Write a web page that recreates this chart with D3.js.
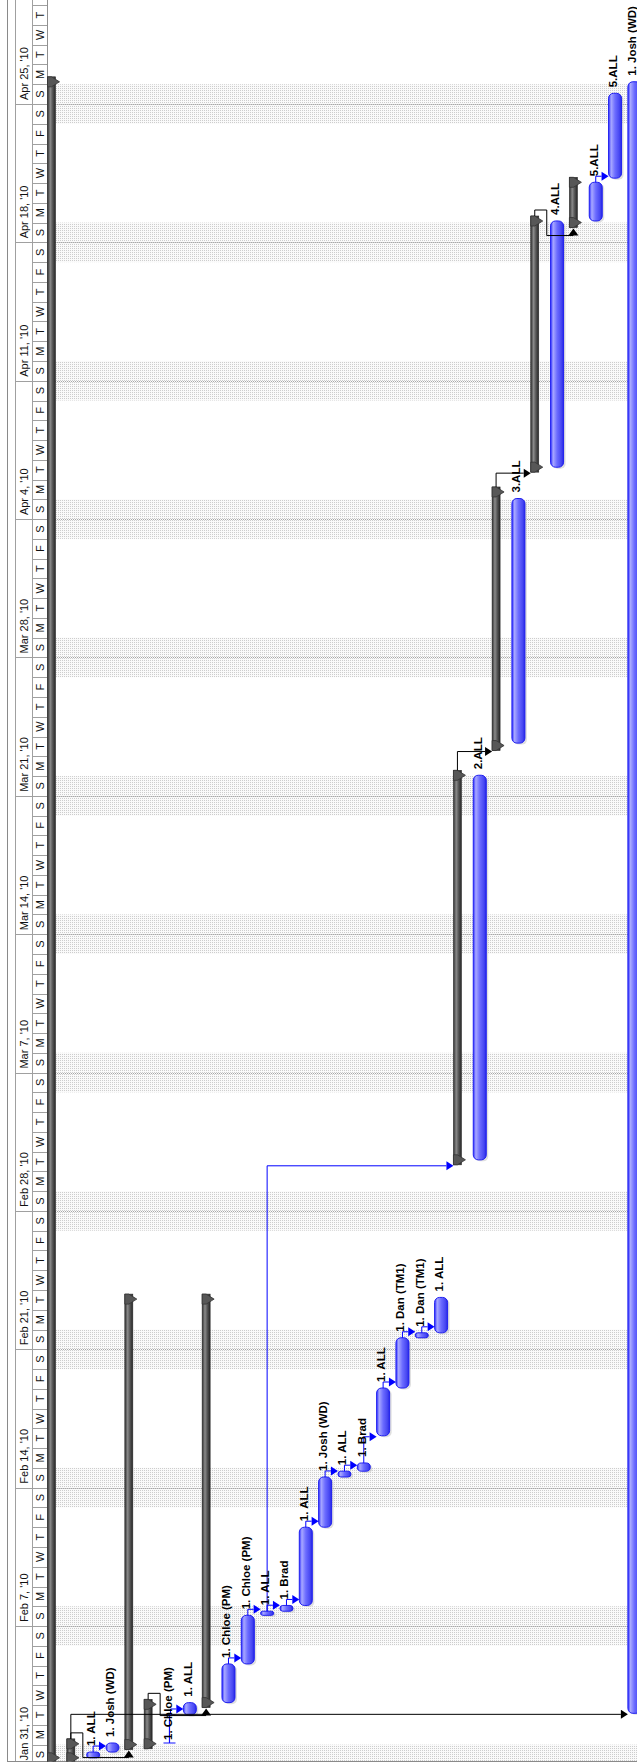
<!DOCTYPE html>
<html><head><meta charset="utf-8">
<script src="https://cdn.jsdelivr.net/npm/d3@7"></script>
<style>html,body{margin:0;padding:0;background:#fff;} svg{display:block;}</style>
</head><body>
<script>
// ---------- DATA ----------
const rowTypes = ["summary","summary","task","task","summary","summary","ibar","task","summary","task",
  "task","task","task","task","task","task","task","task","task","task",
  "task","summary","task","summary","task","summary","task","summary","task","task","task"];
const rowNames = ["","","1. ALL","1. Josh (WD)","","","1. Chloe (PM)","1. ALL","","1. Chloe (PM)",
  "1. Chloe (PM)","1. ALL","1. Brad","1. ALL","1. Josh (WD)","1. ALL","1. Brad","1. ALL","1. Dan (TM1)","1. Dan (TM1)",
  "1. ALL","","2.ALL","","3.ALL","","4.ALL","","5.ALL","5.ALL","1. Josh (WD)"];
const rowStart = ["2010-01-31 02:00","2010-01-31 02:00","2010-01-31 08:00","2010-01-31 15:00","2010-01-31 18:00",
  "2010-01-31 19:00","2010-02-01 02:00","2010-02-02 12:00","2010-02-02 21:00","2010-02-03 03:00",
  "2010-02-05 02:00","2010-02-07 13:00","2010-02-07 18:00","2010-02-08 01:00","2010-02-12 00:00",
  "2010-02-14 13:00","2010-02-14 20:00","2010-02-16 15:00","2010-02-19 01:00","2010-02-21 14:00",
  "2010-02-21 20:00","2010-03-02 08:00","2010-03-02 14:00","2010-03-23 07:00","2010-03-23 16:00",
  "2010-04-06 09:00","2010-04-06 15:00","2010-04-18 18:00","2010-04-19 02:00","2010-04-21 06:00",
  "2010-02-02 14:00"];
const rowEnd = ["2010-04-26 09:00","2010-02-01 07:00","2010-01-31 15:00","2010-02-01 02:00","2010-02-23 19:00",
  "2010-02-03 07:00","2010-02-02 12:00","2010-02-03 03:00","2010-02-23 19:00","2010-02-05 02:00",
  "2010-02-07 13:00","2010-02-07 18:00","2010-02-08 01:00","2010-02-12 00:00","2010-02-14 13:00",
  "2010-02-14 20:00","2010-02-15 06:00","2010-02-19 01:00","2010-02-21 14:00","2010-02-21 20:00",
  "2010-02-23 15:00","2010-03-22 07:00","2010-03-22 01:00","2010-04-05 15:00","2010-04-05 01:00",
  "2010-04-19 08:00","2010-04-19 02:00","2010-04-21 07:00","2010-04-21 01:00","2010-04-25 13:00",
  "2010-04-26 03:00"];
const linkFrom = [1,1,5,2,6,9,10,11,12,13,14,15,16,17,18,19,11,21,23,25,28];
const linkTo   = [30,4,8,3,7,10,11,12,13,14,15,16,17,18,19,20,21,23,25,27,29];
const weekLabels = ["Jan 31, '10","Feb 7, '10","Feb 14, '10","Feb 21, '10","Feb 28, '10","Mar 7, '10",
  "Mar 14, '10","Mar 21, '10","Mar 28, '10","Apr 4, '10","Apr 11, '10","Apr 18, '10","Apr 25, '10"];
const dayLetters = ["S","M","T","W","T","F","S"];

// ---------- SETUP ----------
const W = 637, H = 1764, BOTTOM = 1761.5;
const parse = d3.utcParse("%Y-%m-%d %H:%M");
const rows = rowTypes.map((t,i)=>({i, type:t, name:rowNames[i], start:parse(rowStart[i]), end:parse(rowEnd[i])}));
const y = d3.scaleUtc().domain([new Date(Date.UTC(2010,0,31)), new Date(Date.UTC(2010,3,25))]).range([1764.4, 104]);
const x = d3.scaleBand().domain(d3.range(rows.length)).range([42, 42 + rows.length*19.33]);
const sc = i => x(i) + 9.5;   // summary centre
const tc = i => x(i) + 12.5;  // task centre

const svg = d3.select("body").append("svg").attr("width", W).attr("height", H);
const defs = svg.append("defs");
const pat = defs.append("pattern").attr("id","wk").attr("width",2).attr("height",2).attr("patternUnits","userSpaceOnUse");
pat.append("rect").attr("width",2).attr("height",2).attr("fill","#fafafa");
pat.append("rect").attr("width",1).attr("height",1).attr("fill","#cdcdcd");

function grad(id, stops){
  const g = defs.append("linearGradient").attr("id",id).attr("x1","0").attr("x2","1").attr("y1","0").attr("y2","0");
  stops.forEach(s=>g.append("stop").attr("offset",s[0]).attr("stop-color",s[1]));
}
grad("taskG", [[0,"#2e2eff"],[0.2,"#a8a8ff"],[0.5,"#6c6cff"],[0.82,"#4848f2"],[1,"#2626e6"]]);
grad("sumG", [[0,"#303030"],[0.35,"#8a8a8a"],[0.65,"#555"],[1,"#262626"]]);

defs.append("clipPath").attr("id","chartClip").append("rect").attr("x",47).attr("y",0).attr("width",W-47).attr("height",BOTTOM);
defs.append("clipPath").attr("id","hdrClip").append("rect").attr("x",0).attr("y",0).attr("width",47).attr("height",BOTTOM);

// ---------- WEEKENDS ----------
const chart = svg.append("g").attr("clip-path","url(#chartClip)");
const sats = d3.utcSaturday.range(new Date(Date.UTC(2010,0,29)), new Date(Date.UTC(2010,4,2)));
chart.selectAll("rect.we").data(sats).join("rect").attr("class","we")
  .attr("x",47).attr("width",W-47)
  .attr("y", d=>y(d3.utcDay.offset(d,2))).attr("height", d=>y(d)-y(d3.utcDay.offset(d,2)))
  .attr("fill","url(#wk)");
chart.selectAll("line.sun").data(sats).join("line").attr("class","sun")
  .attr("x1",47).attr("x2",W)
  .attr("y1", d=>Math.round(y(d3.utcDay.offset(d,1)))+0.5).attr("y2", d=>Math.round(y(d3.utcDay.offset(d,1)))+0.5)
  .attr("stroke","#a8a8a8").attr("stroke-dasharray","1,1");

// ---------- HEADER ----------
const hdr = svg.append("g").attr("clip-path","url(#hdrClip)");
const days = d3.utcDay.range(new Date(Date.UTC(2010,0,30)), new Date(Date.UTC(2010,4,2)));
hdr.selectAll("line.dl").data(days).join("line").attr("class","dl")
  .attr("x1",32).attr("x2",47).attr("y1",d=>Math.round(y(d))+0.5).attr("y2",d=>Math.round(y(d))+0.5)
  .attr("stroke","#a0a0a0");
const visDays = days.filter(d=>{ const c = y(d3.utcHour.offset(d,12)); return c > 6 && c < BOTTOM - 5; });
hdr.selectAll("text.dt").data(visDays).join("text").attr("class","dt")
  .attr("transform", d=>`translate(43.5,${y(d3.utcHour.offset(d,12))}) rotate(-90)`)
  .attr("text-anchor","middle").attr("font-family","'Liberation Sans', Arial, sans-serif").attr("font-size",11)
  .attr("fill","#111").text(d=>dayLetters[d.getUTCDay()]);
const suns = d3.utcSunday.range(new Date(Date.UTC(2010,0,31)), new Date(Date.UTC(2010,4,2)));
hdr.selectAll("line.wl").data(suns).join("line").attr("class","wl")
  .attr("x1",15).attr("x2",32).attr("y1",d=>Math.round(y(d))+0.5).attr("y2",d=>Math.round(y(d))+0.5)
  .attr("stroke","#a0a0a0");
hdr.selectAll("text.wt").data(suns.slice(0, weekLabels.length)).join("text").attr("class","wt")
  .attr("transform", d=>`translate(28,${y(d)-4}) rotate(-90)`)
  .attr("font-family","'Liberation Sans', Arial, sans-serif").attr("font-size",11)
  .attr("fill","#111").text((d,i)=>weekLabels[i]);
[[7,"#8a8a8a"],[15,"#a0a0a0"],[32,"#a0a0a0"],[47,"#909090"]].forEach(([xx,c])=>{
  svg.append("line").attr("x1",xx+0.5).attr("x2",xx+0.5).attr("y1",0).attr("y2",BOTTOM).attr("stroke",c);
});
svg.append("line").attr("x1",7).attr("x2",W).attr("y1",BOTTOM).attr("y2",BOTTOM).attr("stroke","#8a8a8a");

// ---------- BARS ----------
const bars = svg.append("g").attr("clip-path","url(#chartClip)");
rows.forEach(r=>{
  const y0 = y(r.start), y1 = y(r.end), len = y0 - y1;
  if (r.type === "summary") {
    const c = sc(r.i), xl = c - 4, xr = c + 4;
    bars.append("rect").attr("x",xl).attr("y",y1).attr("width",8).attr("height",len)
      .attr("fill","url(#sumG)").attr("stroke","#2a2a2a").attr("stroke-width",0.6);
    const cap = (ye, dir) => `M${xl},${ye} L${c},${ye} L${xr+4},${ye+dir*5} L${c},${ye+dir*10} L${xl},${ye+dir*10} Z`;
    bars.append("path").attr("d",cap(y0,-1)).attr("fill","#575757").attr("stroke","#333").attr("stroke-width",0.8);
    bars.append("path").attr("d",cap(y1,1)).attr("fill","#575757").attr("stroke","#333").attr("stroke-width",0.8);
  } else if (r.type === "task") {
    const c = tc(r.i), rr = Math.min(5, len/2);
    bars.append("rect").attr("x",c-6.5+2).attr("y",y1+1.5).attr("width",13).attr("height",len)
      .attr("rx",rr).attr("ry",rr).attr("fill","#c4c4c4").attr("opacity",0.55);
    bars.append("rect").attr("x",c-6.5).attr("y",y1).attr("width",13).attr("height",Math.max(len,2))
      .attr("rx",rr).attr("ry",rr).attr("fill","url(#taskG)").attr("stroke","#2020f0").attr("stroke-width",1);
  } else {
    const c = tc(r.i) - 1;
    bars.append("line").attr("x1",c).attr("x2",c).attr("y1",y1).attr("y2",y0).attr("stroke","#1010ff").attr("stroke-width",1.2);
    [y0,y1].forEach(yy=>bars.append("line").attr("x1",c-6).attr("x2",c+6).attr("y1",yy).attr("y2",yy).attr("stroke","#1010ff").attr("stroke-width",1.2));
  }
});

// ---------- LINKS ----------
const links = svg.append("g").attr("clip-path","url(#chartClip)");
linkFrom.forEach((f,k)=>{
  const p = rows[f], s = rows[linkTo[k]];
  const col = p.type === "summary" ? "#000" : "#0000ff";
  const px = p.type === "summary" ? sc(p.i) : tc(p.i);
  const pyE = y(p.end), sy = y(s.start);
  const sx = s.type === "summary" ? sc(s.i) : tc(s.i);
  const sLeft = s.type === "summary" ? sc(s.i) - 4 : tc(s.i) - 6.5;
  if (sy > pyE + 1) {
    const lx = px + 12, by = sy + 8;
    links.append("path").attr("d",`M${px},${pyE} V${pyE-6} H${lx} V${by} H${sx}`)
      .attr("fill","none").attr("stroke",col).attr("stroke-width",1);
    links.append("path").attr("d",`M${sx},${sy+1} L${sx-5},${by} L${sx+5},${by} Z`).attr("fill",col);
  } else {
    const ay = Math.min(sy + 1, pyE - 6);
    links.append("path").attr("d",`M${px},${pyE} V${ay} H${sLeft-7}`)
      .attr("fill","none").attr("stroke",col).attr("stroke-width",1);
    links.append("path").attr("d",`M${sLeft},${ay} L${sLeft-7},${ay-4.5} L${sLeft-7},${ay+4.5} Z`).attr("fill",col);
  }
});

// ---------- LABELS ----------
const labels = svg.append("g").attr("clip-path","url(#chartClip)");
rows.filter(r=>r.name).forEach(r=>{
  const ay = r.type === "ibar" ? y(r.start) - 3 : y(r.end) - 6;
  labels.append("text").attr("transform",`translate(${x(r.i)+14.5},${ay}) rotate(-90)`)
    .attr("font-family","'Liberation Sans', Arial, sans-serif").attr("font-weight","bold").attr("font-size",11.5)
    .attr("fill","#000").text(r.name);
});
</script>
</body></html>
